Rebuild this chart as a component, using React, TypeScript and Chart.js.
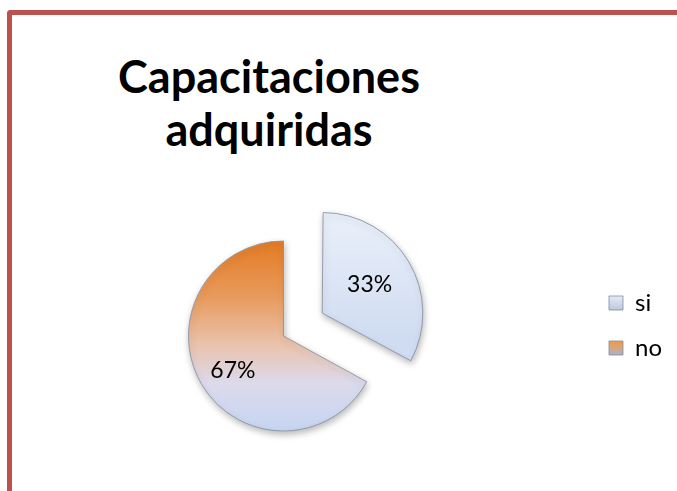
import React, { useEffect, useRef } from 'react';
import { Chart, registerables } from 'chart.js';

Chart.register(...registerables);

const categories = ['si', 'no'];
const values = [33, 67];
const titleLines = ['Capacitaciones', 'adquiridas'];

const RADIUS = 95;
const OFFSET = 180; // Chart.js moves an exploded arc by offset / 4
const SHIFT = 40; // canvas is shifted left so the legend can sit at the right edge
const BOX = 14;

const sliceLabels = {
  id: 'sliceLabels',
  beforeDraw(chart: any) {
    const legend = chart.legend;
    if (!legend || !legend.legendItems || !legend.legendHitBoxes) return;
    const ctx = chart.ctx;
    legend.legendItems.forEach((item: any, i: number) => {
      const hb = legend.legendHitBoxes[i];
      if (!hb) return;
      const top = hb.top + Math.max((hb.height - BOX) / 2, 0);
      const g = ctx.createLinearGradient(0, top, 0, top + BOX);
      if (i === 0) {
        g.addColorStop(0, '#E6ECF6');
        g.addColorStop(1, '#BCC7DB');
      } else {
        g.addColorStop(0, '#F29A3C');
        g.addColorStop(0.5, '#D9A47F');
        g.addColorStop(1, '#A9B3CA');
      }
      item.fillStyle = g;
    });
  },
  beforeDatasetsDraw(chart: any) {
    const ctx = chart.ctx;
    ctx.save();
    ctx.shadowColor = 'rgba(0,0,0,0.28)';
    ctx.shadowBlur = 7;
    ctx.shadowOffsetX = 1;
    ctx.shadowOffsetY = 3;
  },
  afterDatasetsDraw(chart: any) {
    const ctx = chart.ctx;
    ctx.restore();
    const meta = chart.getDatasetMeta(0);
    const data = chart.data.datasets[0].data as number[];
    const total = data.reduce((a, b) => a + b, 0);
    ctx.save();
    ctx.font = '23px Lato';
    ctx.fillStyle = '#000';
    ctx.textAlign = 'center';
    ctx.textBaseline = 'middle';
    meta.data.forEach((el: any, i: number) => {
      const { x, y, startAngle, endAngle, outerRadius } = el.getProps(
        ['x', 'y', 'startAngle', 'endAngle', 'outerRadius'],
        true
      );
      const mid = (startAngle + endAngle) / 2 + (i === 0 ? 0 : -0.065);
      const shift = (el.options.offset || 0) / 4;
      const d = shift + outerRadius * (i === 0 ? 0.58 : 0.645);
      ctx.fillText(
        Math.round((data[i] / total) * 100) + '%',
        x + Math.cos(mid) * d,
        y + Math.sin(mid) * d
      );
    });
    ctx.restore();
  },
};

export default function App() {
  const ref = useRef<HTMLCanvasElement>(null);

  useEffect(() => {
    const canvas = ref.current;
    if (!canvas) return;

    const bg = (c: any) => {
      const chart = c.chart;
      const area = chart.chartArea;
      if (!area) return c.dataIndex === 0 ? '#DCE5F5' : '#E39A5E';
      const cy = (area.top + area.bottom) / 2;
      if (c.dataIndex === 0) {
        const top = cy - RADIUS - 23;
        const g = chart.ctx.createLinearGradient(0, top, 0, top + RADIUS * 1.5);
        g.addColorStop(0, '#EEF3FB');
        g.addColorStop(1, '#D0DCF1');
        return g;
      }
      const g = chart.ctx.createLinearGradient(0, cy - RADIUS, 0, cy + RADIUS);
      g.addColorStop(0, '#E47B24');
      g.addColorStop(0.3, '#E89B5E');
      g.addColorStop(0.55, '#EAC3AE');
      g.addColorStop(0.75, '#DCDAEC');
      g.addColorStop(1, '#C6D5F1');
      return g;
    };

    const chart = new Chart(canvas, {
      type: 'pie',
      data: {
        labels: categories,
        datasets: [
          {
            data: values,
            backgroundColor: bg,
            borderColor: 'rgba(135,145,165,0.85)',
            borderWidth: 1,
            offset: [OFFSET, 0],
            radius: RADIUS,
            cutout: '0%',
            clip: false,
          } as any,
        ],
      },
      options: {
        responsive: false,
        animation: false,
        devicePixelRatio: 1,
        radius: RADIUS,
        cutout: '0%',
        layout: { padding: { left: 19, top: 270, right: 5, bottom: 89 } },
        plugins: {
          legend: {
            position: 'right',
            align: 'start',
            labels: {
              boxWidth: BOX,
              boxHeight: BOX,
              padding: 21,
              color: '#000',
              font: { family: 'Lato', size: 24 },
            },
          },
          tooltip: { enabled: false },
          title: { display: false },
        },
      } as any,
      plugins: [sliceLabels],
    });

    return () => chart.destroy();
  }, []);

  return (
    <div
      style={{
        position: 'fixed',
        left: 0,
        top: 0,
        width: 677,
        height: 491,
        overflow: 'hidden',
        background: '#fff',
      }}
    >
      <div
        style={{
          position: 'absolute',
          left: 7,
          top: 10,
          width: 720,
          height: 600,
          borderTop: '5px solid #C0504D',
          borderLeft: '5px solid #C0504D',
          borderTopLeftRadius: 4,
          boxSizing: 'border-box',
        }}
      />
      <div
        style={{
          position: 'absolute',
          left: 0,
          top: 50,
          width: 538,
          textAlign: 'center',
          fontFamily: 'Lato',
          fontWeight: 700,
          fontSize: 45,
          lineHeight: '53px',
          color: '#000',
        }}
      >
        {titleLines.map((t) => (
          <div key={t}>{t}</div>
        ))}
      </div>
      <canvas
        ref={ref}
        width={677 + SHIFT}
        height={491}
        style={{
          position: 'absolute',
          left: -SHIFT,
          top: 0,
          width: 677 + SHIFT,
          height: 491,
        }}
      />
    </div>
  );
}
